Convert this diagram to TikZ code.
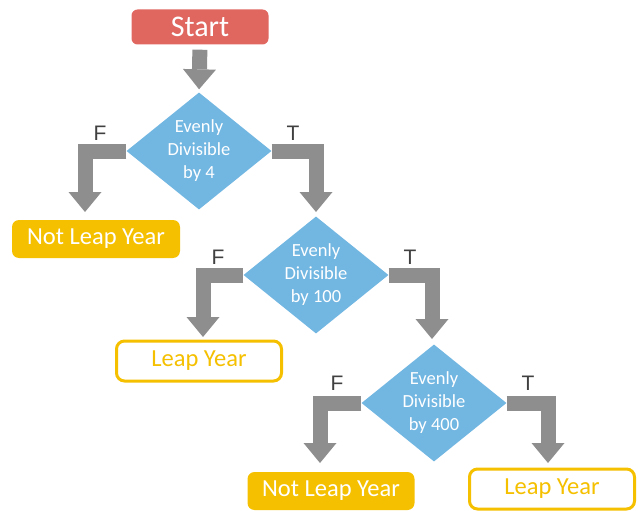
\documentclass[tikz,border=0pt]{standalone}
\usepackage{fontspec}
\setmainfont{Carlito}
\newfontfamily\labelfont{Liberation Sans}
\usetikzlibrary{shapes.geometric,arrows.meta}
\definecolor{startred}{RGB}{224,102,96}
\definecolor{diablue}{RGB}{114,182,226}
\definecolor{gold}{RGB}{245,192,0}
\definecolor{arrowgray}{RGB}{142,142,142}
\definecolor{labelgray}{RGB}{64,64,64}
\begin{document}
\begin{tikzpicture}[x=1pt,y=-1pt,
  startbox/.style={rectangle, rounded corners=6pt, fill=startred, text=white,
    font=\fontsize{30}{32}\selectfont, minimum width=137pt, minimum height=35pt, inner sep=0pt},
  filledbox/.style={rectangle, rounded corners=7pt, fill=gold, text=white,
    font=\fontsize{24.5}{27}\selectfont, minimum width=168pt, minimum height=38pt, inner sep=0pt},
  outlinebox/.style={rectangle, rounded corners=8pt, draw=gold, line width=3pt, fill=white, text=gold,
    font=\fontsize{24.5}{27}\selectfont, minimum width=165pt, minimum height=40pt, inner sep=0pt},
  decision/.style={diamond, fill=diablue, text=white, align=center,
    font=\fontsize{18.5}{23}\selectfont, inner sep=0pt, aspect=1.24,
    minimum width=145pt, minimum height=117pt},
  bigarrow/.style={draw=arrowgray, line width=15pt, line join=miter,
    -{Triangle[length=20pt,width=33pt,line width=0pt,fill=arrowgray]}},
  tflabel/.style={text=labelgray, font=\labelfont\fontsize{21}{24}\selectfont, inner sep=0pt}
]
\useasboundingbox (0,0) rectangle (638,511);

\node[startbox] (start) at (200,27) {Start};

\node[decision] (d1) at (199,151) {Evenly\\Divisible\\by 4};
\node[decision] (d2) at (316,275) {Evenly\\Divisible\\by 100};
\node[decision] (d3) at (434,403) {Evenly\\Divisible\\by 400};

\node[filledbox] (nly1) at (96,239) {Not Leap Year};
\node[outlinebox] (ly1) at (199,361) {Leap Year};
\node[filledbox, minimum width=167pt] (nly2) at (331,491) {Not Leap Year};
\node[outlinebox] (ly2) at (552,489) {Leap Year};

\coordinate (f1tip) at (85,212);
\coordinate (t1tip) at (316,212);
\coordinate (f2tip) at (203,337);
\coordinate (t2tip) at (432,339);
\coordinate (f3tip) at (320,463);
\coordinate (t3tip) at (548,463);

\draw[bigarrow, shorten <=5pt, shorten >=3pt] (start.south) -- (d1.north);
\draw[bigarrow] (d1.west) -| (f1tip);
\draw[bigarrow] (d1.east) -| (t1tip);
\draw[bigarrow] (d2.west) -| (f2tip);
\draw[bigarrow] (d2.east) -| (t2tip);
\draw[bigarrow] (d3.west) -| (f3tip);
\draw[bigarrow] (d3.east) -| (t3tip);

\node[tflabel] (lf1) at (100,133) {F};
\node[tflabel] (lt1) at (293,133) {T};
\node[tflabel] (lf2) at (218,257) {F};
\node[tflabel] (lt2) at (410,257) {T};
\node[tflabel] (lf3) at (337,383) {F};
\node[tflabel] (lt3) at (528,383) {T};
\end{tikzpicture}
\end{document}
